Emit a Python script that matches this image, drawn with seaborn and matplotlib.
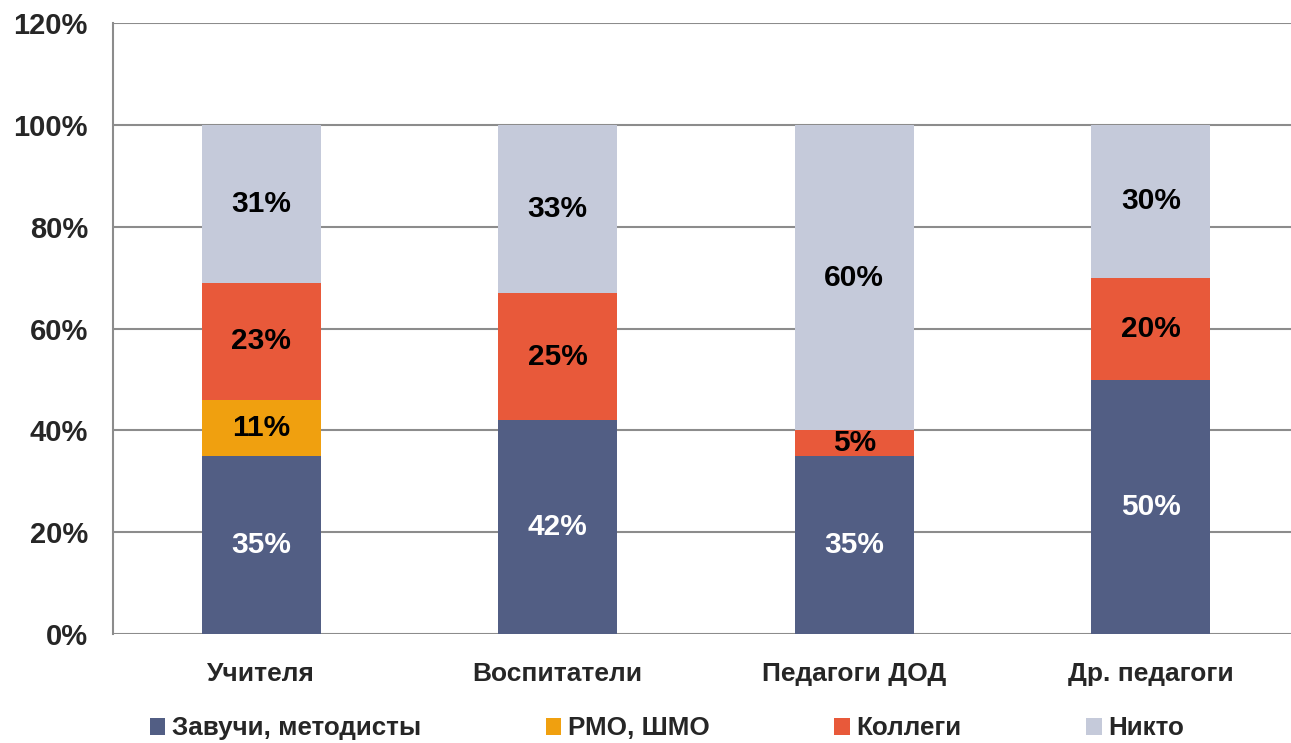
import matplotlib
matplotlib.use("Agg")
import matplotlib.pyplot as plt
import seaborn as sns
import pandas as pd
import numpy as np
from matplotlib.patches import Patch
from matplotlib import font_manager

categories = ["Учителя", "Воспитатели", "Педагоги ДОД", "Др. педагоги"]
series_names = ["Завучи, методисты", "РМО, ШМО", "Коллеги", "Никто"]
zavuchi = [35, 42, 35, 50]
rmo = [11, 0, 0, 0]
kollegi = [23, 25, 5, 20]
nikto = [31, 33, 60, 30]
yticks = [0, 20, 40, 60, 80, 100, 120]

colors = ["#525E84", "#F0A00F", "#E8593A", "#C5CADA"]
text_colors = ["white", "black", "black", "black"]

sns.set_theme(style="white")
plt.rcParams['font.family'] = ['Liberation Sans', 'DejaVu Sans']

names = {f.name for f in font_manager.fontManager.ttflist}
narrow = "Liberation Sans Narrow" if "Liberation Sans Narrow" in names else "Liberation Sans"

fig = plt.figure(figsize=(12.91, 7.43), dpi=100)
ax = fig.add_axes([0.0875, 0.1467, 0.9187, 0.822])

values = [zavuchi, rmo, kollegi, nikto]
bottom = np.zeros(len(categories))
for name, vals, col, tc in zip(series_names, values, colors, text_colors):
    df = pd.DataFrame({"cat": categories, "val": vals})
    sns.barplot(data=df, x="cat", y="val", color=col, bottom=bottom, width=0.4,
                ax=ax, order=categories, saturation=1, zorder=3,
                edgecolor="none", linewidth=0)
    for i, v in enumerate(vals):
        if v > 0:
            ax.text(i, bottom[i] + v / 2, f"{v}%", ha="center", va="center",
                    color=tc, fontsize=21.5, fontweight="bold", zorder=4)
    bottom = bottom + np.array(vals)

ax.set_xlim(-0.5, 3.5)
ax.set_ylim(0, 120)
ax.set_yticks(yticks)
ax.set_yticklabels([f"{t}%" for t in yticks], fontsize=21, fontweight="bold")
ax.yaxis.grid(True, color="#8C8C8C", linewidth=1.5, zorder=0)
ax.set_axisbelow(True)
ax.tick_params(axis="y", length=0, pad=18)
ax.tick_params(axis="x", length=0, pad=20)
ax.set_xticks(range(len(categories)))
ax.set_xticklabels(categories, fontsize=19, fontweight="bold", family=[narrow, "DejaVu Sans"])
ax.set_xlabel("")
ax.set_ylabel("")
for s in ["top", "right", "bottom"]:
    ax.spines[s].set_visible(False)
ax.spines["left"].set_color("#8C8C8C")
ax.spines["left"].set_linewidth(1.5)

handles = [Patch(facecolor=c, edgecolor="none") for c in colors]
leg = fig.legend(handles, series_names, loc="lower left", bbox_to_anchor=(0.098, -0.028),
                 ncol=4, frameon=False, handlelength=0.6, handleheight=0.6,
                 handletextpad=0.25, columnspacing=4.8,
                 prop={"family": [narrow, "DejaVu Sans"], "weight": "bold", "size": 18.7})

fig.savefig("out.png", dpi=100)
